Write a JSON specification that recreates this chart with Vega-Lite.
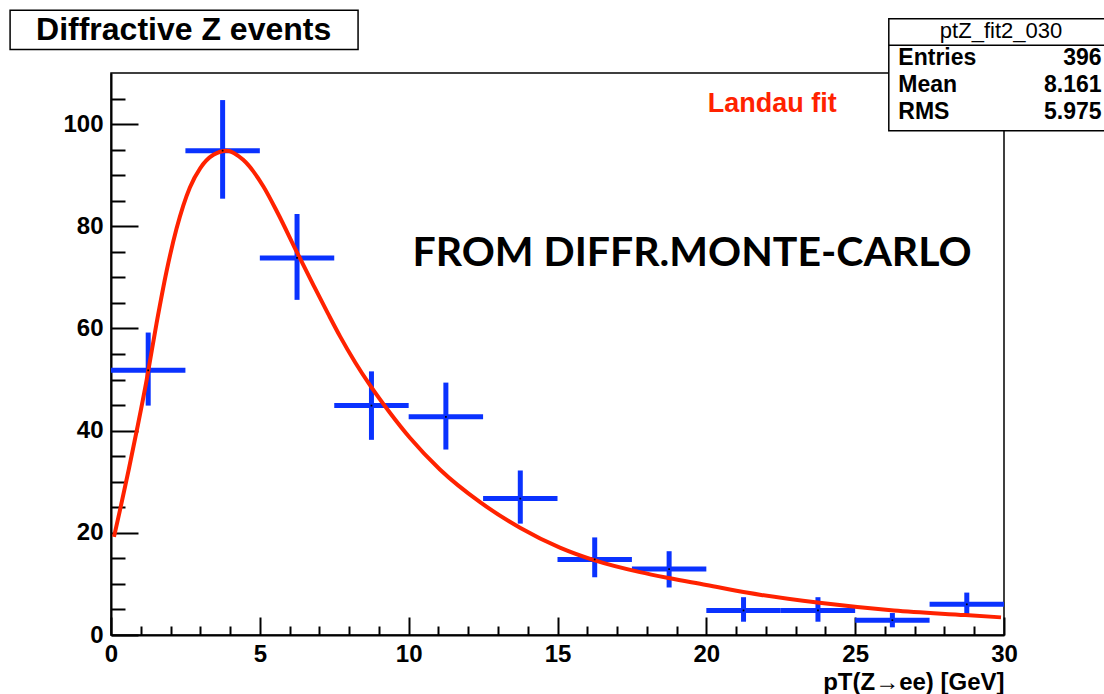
{
  "$schema": "https://vega.github.io/schema/vega-lite/v6.json",
  "width": 893,
  "height": 562,
  "autosize": "none",
  "padding": {"left": 111, "top": 73, "right": 100, "bottom": 59},
  "background": "white",
  "config": {
    "view": {"stroke": "black", "strokeWidth": 1.5},
    "font": "Liberation Sans",
    "axis": {"grid": false, "labelFlush": false, "labelOverlap": false, "tickColor": "black", "domainColor": "black", "labelColor": "black", "titleColor": "black"}
  },
  "datasets": {
    "hist": [
      {"pt": 1.25, "bin_lo": 0, "bin_hi": 2.5, "count": 51.8, "count_lo": 44.9, "count_hi": 59.2},
      {"pt": 3.75, "bin_lo": 2.5, "bin_hi": 5, "count": 94.8, "count_lo": 85.4, "count_hi": 104.7},
      {"pt": 6.25, "bin_lo": 5, "bin_hi": 7.5, "count": 73.8, "count_lo": 65.6, "count_hi": 82.4},
      {"pt": 8.75, "bin_lo": 7.5, "bin_hi": 10, "count": 44.9, "count_lo": 38.2, "count_hi": 51.6},
      {"pt": 11.25, "bin_lo": 10, "bin_hi": 12.5, "count": 42.7, "count_lo": 36.3, "count_hi": 49.4},
      {"pt": 13.75, "bin_lo": 12.5, "bin_hi": 15, "count": 26.7, "count_lo": 21.8, "count_hi": 32.2},
      {"pt": 16.25, "bin_lo": 15, "bin_hi": 17.5, "count": 14.8, "count_lo": 11.3, "count_hi": 19.1},
      {"pt": 18.75, "bin_lo": 17.5, "bin_hi": 20, "count": 12.9, "count_lo": 9.3, "count_hi": 16.4},
      {"pt": 21.25, "bin_lo": 20, "bin_hi": 22.5, "count": 4.8, "count_lo": 2.6, "count_hi": 7.4},
      {"pt": 23.75, "bin_lo": 22.5, "bin_hi": 25, "count": 4.8, "count_lo": 2.6, "count_hi": 7.4},
      {"pt": 26.25, "bin_lo": 25, "bin_hi": 27.5, "count": 2.9, "count_lo": 1.5, "count_hi": 4.3},
      {"pt": 28.75, "bin_lo": 27.5, "bin_hi": 30, "count": 6.0, "count_lo": 3.6, "count_hi": 8.3}
    ],
    "fit": [
      {"pt": 0.1, "y": 19.2}, {"pt": 0.3, "y": 24.4}, {"pt": 0.6, "y": 32.5}, {"pt": 0.9, "y": 41.0},
      {"pt": 1.2, "y": 50.0}, {"pt": 1.53, "y": 61.0}, {"pt": 1.87, "y": 71.3}, {"pt": 2.2, "y": 79.5},
      {"pt": 2.65, "y": 87.6}, {"pt": 3.0, "y": 91.4}, {"pt": 3.44, "y": 94.0}, {"pt": 3.89, "y": 94.8},
      {"pt": 4.44, "y": 93.0}, {"pt": 5.12, "y": 87.8}, {"pt": 5.6, "y": 82.6}, {"pt": 6.24, "y": 75.0},
      {"pt": 6.8, "y": 68.5}, {"pt": 7.3, "y": 62.8}, {"pt": 7.7, "y": 58.4}, {"pt": 8.2, "y": 53.4},
      {"pt": 8.7, "y": 48.9}, {"pt": 9.37, "y": 43.5}, {"pt": 10.04, "y": 38.6}, {"pt": 11.05, "y": 32.4},
      {"pt": 12.4, "y": 26.0}, {"pt": 13.74, "y": 21.0}, {"pt": 15.08, "y": 17.1}, {"pt": 16.2, "y": 14.7},
      {"pt": 17.77, "y": 12.3}, {"pt": 18.78, "y": 11.1}, {"pt": 20.0, "y": 9.8}, {"pt": 21.35, "y": 8.3},
      {"pt": 23.8, "y": 6.3}, {"pt": 26.3, "y": 4.8}, {"pt": 28.7, "y": 3.9}, {"pt": 29.9, "y": 3.45}
    ]
  },
  "resolve": {"axis": {"x": "independent", "y": "independent"}},
  "layer": [
    {
      "data": {"name": "hist"},
      "mark": {"type": "rule", "color": "#0a32ff", "strokeWidth": 5},
      "encoding": {
        "x": {"field": "bin_lo", "type": "quantitative", "scale": {"domain": [0, 30], "nice": false, "zero": false},
          "axis": {"orient": "bottom", "values": [0, 5, 10, 15, 20, 25, 30], "tickSize": -18, "tickWidth": 2, "domainWidth": 2,
            "labelPadding": 25, "labelFont": "Liberation Sans", "labelFontWeight": "bold", "labelFontSize": 24,
            "title": "pT(Z→ee) [GeV]", "titleFont": "Liberation Sans", "titleFontWeight": "bold", "titleFontSize": 24,
            "titleAnchor": "end", "titleAlign": "right", "titleBaseline": "alphabetic", "titleX": 893, "titleY": 54}},
        "x2": {"field": "bin_hi"},
        "y": {"field": "count", "type": "quantitative", "scale": {"domain": [0, 110], "nice": false},
          "axis": {"orient": "left", "values": [0, 20, 40, 60, 80, 100], "tickSize": -27, "tickWidth": 2, "domainWidth": 2,
            "labelPadding": 35, "labelFont": "Liberation Sans", "labelFontWeight": "bold", "labelFontSize": 24, "title": null}}
      }
    },
    {
      "data": {"name": "hist"},
      "mark": {"type": "rule", "color": "#0a32ff", "strokeWidth": 5},
      "encoding": {
        "x": {"field": "pt", "type": "quantitative",
          "axis": {"orient": "bottom", "values": [1, 2, 3, 4, 6, 7, 8, 9, 11, 12, 13, 14, 16, 17, 18, 19, 21, 22, 23, 24, 26, 27, 28, 29],
            "tickSize": -9, "tickWidth": 2, "domain": false, "labels": false, "title": null}},
        "y": {"field": "count_lo", "type": "quantitative",
          "axis": {"orient": "left", "values": [5, 10, 15, 25, 30, 35, 45, 50, 55, 65, 70, 75, 85, 90, 95, 105],
            "tickSize": -14, "tickWidth": 2, "domain": false, "labels": false, "title": null}},
        "y2": {"field": "count_hi"}
      }
    },
    {
      "data": {"name": "fit"},
      "mark": {"type": "line", "color": "#ff2200", "strokeWidth": 4, "interpolate": "monotone"},
      "encoding": {
        "x": {"field": "pt", "type": "quantitative", "axis": null},
        "y": {"field": "y", "type": "quantitative", "axis": null}
      }
    },
    {
      "data": {"name": "hist"},
      "mark": {"type": "point", "shape": "square", "filled": true, "color": "black", "size": 3, "opacity": 1},
      "encoding": {
        "x": {"field": "pt", "type": "quantitative", "axis": null},
        "y": {"field": "count", "type": "quantitative", "axis": null}
      }
    },
    {
      "data": {"values": [{"label": "Landau fit"}]},
      "mark": {"type": "text", "color": "#ff2200", "font": "Liberation Sans", "fontWeight": "bold", "fontSize": 27, "align": "left", "baseline": "alphabetic"},
      "encoding": {
        "x": {"datum": 20.05, "type": "quantitative", "axis": null},
        "y": {"datum": 102.4, "type": "quantitative", "axis": null},
        "text": {"field": "label"}
      }
    },
    {
      "data": {"values": [{"label": "FROM DIFFR.MONTE-CARLO"}]},
      "mark": {"type": "text", "color": "black", "font": "Lato", "fontWeight": "bold", "fontSize": 41, "align": "center", "baseline": "alphabetic"},
      "encoding": {
        "x": {"datum": 19.52, "type": "quantitative", "axis": null},
        "y": {"datum": 72.2, "type": "quantitative", "axis": null},
        "text": {"field": "label"}
      }
    },
    {
      "data": {"values": [{"box": "title"}]},
      "mark": {"type": "rect", "fill": "white", "stroke": "black", "strokeWidth": 1.5, "clip": false},
      "encoding": {
        "x": {"datum": -3.39, "type": "quantitative", "axis": null},
        "x2": {"datum": 8.3},
        "y": {"datum": 122.3, "type": "quantitative", "axis": null},
        "y2": {"datum": 114.6}
      }
    },
    {
      "data": {"values": [{"label": "Diffractive Z events"}]},
      "mark": {"type": "text", "color": "black", "font": "Liberation Sans", "fontWeight": "bold", "fontSize": 32, "align": "center", "baseline": "alphabetic"},
      "encoding": {
        "x": {"datum": 2.44, "type": "quantitative", "axis": null},
        "y": {"datum": 116.5, "type": "quantitative", "axis": null},
        "text": {"field": "label"}
      }
    },
    {
      "data": {"values": [{"box": "stats"}]},
      "mark": {"type": "rect", "fill": "white", "stroke": "black", "strokeWidth": 1.5, "clip": false},
      "encoding": {
        "x": {"datum": 26.13, "type": "quantitative", "axis": null},
        "x2": {"datum": 33.45},
        "y": {"datum": 120.6, "type": "quantitative", "axis": null},
        "y2": {"datum": 98.7}
      }
    },
    {
      "data": {"values": [{"box": "divider"}]},
      "mark": {"type": "rule", "stroke": "black", "strokeWidth": 1.5},
      "encoding": {
        "x": {"datum": 26.13, "type": "quantitative", "axis": null},
        "x2": {"datum": 33.45},
        "y": {"datum": 115.45, "type": "quantitative", "axis": null}
      }
    },
    {
      "data": {"values": [{"label": "ptZ_fit2_030"}]},
      "mark": {"type": "text", "color": "black", "font": "Liberation Sans", "fontWeight": "normal", "fontSize": 22, "align": "center", "baseline": "alphabetic"},
      "encoding": {
        "x": {"datum": 29.9, "type": "quantitative", "axis": null},
        "y": {"datum": 116.9, "type": "quantitative", "axis": null},
        "text": {"field": "label"}
      }
    },
    {
      "data": {"values": [
        {"name": "Entries", "value": "396", "row": 111.5},
        {"name": "Mean", "value": "8.161", "row": 106.3},
        {"name": "RMS", "value": "5.975", "row": 100.9}
      ]},
      "layer": [
        {
          "mark": {"type": "text", "color": "black", "font": "Liberation Sans", "fontWeight": "bold", "fontSize": 23, "align": "left", "baseline": "alphabetic"},
          "encoding": {
            "x": {"datum": 26.45, "type": "quantitative", "axis": null},
            "y": {"field": "row", "type": "quantitative", "axis": null},
            "text": {"field": "name"}
          }
        },
        {
          "mark": {"type": "text", "color": "black", "font": "Liberation Sans", "fontWeight": "bold", "fontSize": 23, "align": "right", "baseline": "alphabetic"},
          "encoding": {
            "x": {"datum": 33.28, "type": "quantitative", "axis": null},
            "y": {"field": "row", "type": "quantitative", "axis": null},
            "text": {"field": "value"}
          }
        }
      ]
    }
  ]
}
